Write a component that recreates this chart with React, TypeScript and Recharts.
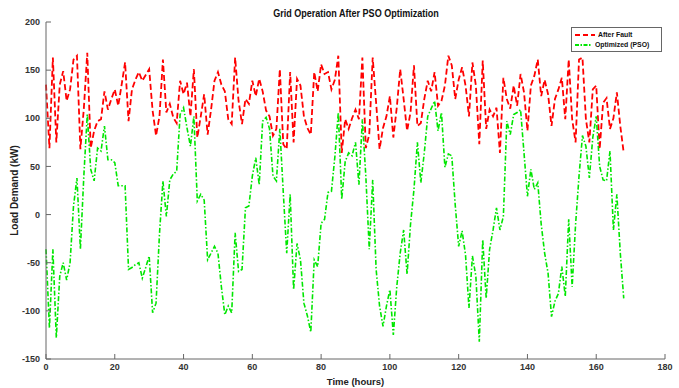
import { LineChart, Line, XAxis, YAxis, Legend } from "recharts";

// hourly load (kW), hours 0..168
const afterFault = [
  135, 69, 163, 75, 135, 149, 118, 130, 161, 165, 68, 110, 168, 69, 87, 97, 99, 128, 109, 120,
  130, 113, 135, 158, 97, 130, 140, 148, 139, 145, 151, 108, 82, 102, 161, 106, 115, 101, 95, 139,
  125, 137, 102, 151, 80, 102, 125, 83, 109, 139, 148, 135, 128, 99, 94, 163, 118, 94, 120, 115,
  139, 123, 141, 128, 108, 102, 82, 89, 151, 73, 68, 148, 75, 141, 134, 102, 90, 83, 148, 128,
  156, 146, 148, 130, 140, 165, 64, 99, 89, 100, 109, 99, 163, 69, 83, 163, 116, 68, 90, 102,
  123, 80, 111, 151, 120, 87, 106, 155, 92, 95, 120, 139, 128, 148, 113, 118, 134, 165, 155, 120,
  140, 153, 134, 102, 158, 134, 73, 160, 89, 109, 102, 111, 64, 142, 120, 110, 134, 113, 146, 127,
  87, 134, 144, 161, 123, 140, 125, 92, 120, 130, 142, 99, 161, 99, 75, 161, 163, 99, 75, 130,
  134, 68, 116, 121, 89, 100, 127, 92, 64,
];

const optimizedPso = [
  -36, -118, -36, -128, -64, -50, -68, -50, 9, 38, -36, 40, 104, 47, 35, 69, 66, 92, 57, 57,
  54, 30, 30, 30, -57, -55, -52, -50, -66, -55, -43, -102, -92, -20, 35, -2, 36, 42, 45, 104,
  111, 90, 71, 102, 14, 21, 15, -47, -40, -33, -40, -75, -104, -95, -102, -19, -59, -57, 7, 9,
  40, 59, 31, 97, 101, 89, 40, 35, 89, 23, -40, 21, -78, -30, -47, -92, -105, -122, -47, -54,
  -9, -5, 23, 24, 60, 106, 16, 55, 64, 61, 75, 31, 99, 40, -36, 36, -57, -95, -116, -95,
  -78, -125, -75, -40, -16, -62, -10, 26, 75, 33, 64, 102, 110, 118, 87, 106, 49, 63, 61, 10,
  -33, -17, -42, -97, -43, -64, -132, -26, -87, -36, -16, 7, -16, -2, 97, 83, 104, 106, 109, 64,
  19, 47, 26, 33, -10, -40, -61, -106, -90, -82, -54, -85, -5, -75, -10, 40, 82, 71, 38, 80,
  102, 50, 36, 35, 66, -16, 21, -40, -87,
];

const xTicks = [0, 20, 40, 60, 80, 100, 120, 140, 160, 180];
const yTicks = [-150, -100, -50, 0, 50, 100, 150, 200];

const data = afterFault.map((v, hour) => ({
  hour,
  afterFault: v,
  optimized: optimizedPso[hour],
}));

const FONT = "'Liberation Sans', Arial, sans-serif";
const AXIS = "#666";
const RED = "#ff0000";
const GREEN = "#00e600";

function LegendBox() {
  const row = { display: "flex", alignItems: "center", height: 10, whiteSpace: "nowrap" as const };
  const txt = { marginLeft: 3, display: "inline-block", transform: "scaleX(0.86)", transformOrigin: "left center" };
  return (
    <div
      style={{
        width: 91,
        height: 25,
        border: `1px solid ${AXIS}`,
        background: "#fff",
        padding: "2px 3px",
        fontFamily: FONT,
        fontSize: 8,
        fontWeight: "bold",
        color: "#111",
        lineHeight: "10px",
        boxSizing: "border-box",
        overflow: "hidden",
      }}
    >
      <div style={row}>
        <svg width={20} height={6}>
          <line x1={0} x2={20} y1={3} y2={3} stroke={RED} strokeWidth={2} strokeDasharray="5 3" />
        </svg>
        <span style={txt}>After Fault</span>
      </div>
      <div style={row}>
        <svg width={20} height={6}>
          <line x1={0} x2={20} y1={3} y2={3} stroke={GREEN} strokeWidth={1.8} strokeDasharray="4 1.5 1.5 1.5" />
        </svg>
        <span style={txt}>Optimized (PSO)</span>
      </div>
    </div>
  );
}

export default function App() {
  const tickStyle = { fill: "#333", fontSize: 9, fontWeight: "bold", fontFamily: FONT };
  return (
    <div style={{ position: "absolute", left: 0, top: 0, width: 679, height: 388, background: "#fff" }}>
      {/* title */}
      <div
        style={{
          position: "absolute",
          left: 356,
          top: 7,
          transform: "translateX(-50%) scaleX(0.82)",
          whiteSpace: "nowrap",
          fontFamily: FONT,
          fontSize: 11,
          fontWeight: "bold",
          color: "#111",
          lineHeight: "13px",
          zIndex: 2,
        }}
      >
        Grid Operation After PSO Optimization
      </div>
      <LineChart
        width={679}
        height={388}
        data={data}
        margin={{ top: 22, right: 14, bottom: 0, left: 0 }}
      >
        {/* bottom / left axes with labels */}
        <XAxis
          dataKey="hour"
          type="number"
          domain={[0, 180]}
          ticks={xTicks}
          height={29}
          tickSize={-5}
          tickMargin={10}
          stroke={AXIS}
          tick={tickStyle}
          label={{
            value: "Time (hours)",
            position: "insideBottom",
            offset: 3,
            style: { fill: "#222", fontSize: 9.5, fontWeight: "bold", fontFamily: FONT },
          }}
        />
        <YAxis
          type="number"
          domain={[-150, 200]}
          ticks={yTicks}
          width={46}
          tickSize={-5}
          tickMargin={11}
          stroke={AXIS}
          tick={tickStyle}
          label={{
            value: "Load Demand (kW)",
            angle: -90,
            position: "insideLeft",
            offset: 14,
            style: { textAnchor: "middle", fill: "#222", fontSize: 10, fontWeight: "bold", fontFamily: FONT },
          }}
        />

        {/* box: top / right axes, inward ticks, no labels */}
        <XAxis
          xAxisId="top"
          orientation="top"
          dataKey="hour"
          type="number"
          domain={[0, 180]}
          ticks={xTicks}
          height={0}
          tickSize={-5}
          stroke={AXIS}
          tickFormatter={() => ""}
        />
        <YAxis
          yAxisId="right"
          orientation="right"
          type="number"
          domain={[-150, 200]}
          ticks={yTicks}
          width={0}
          tickSize={-5}
          stroke={AXIS}
          tickFormatter={() => ""}
        />

        <Legend
          layout="vertical"
          align="center"
          verticalAlign="middle"
          wrapperStyle={{ left: 571, top: 27, width: 91, height: 25 }}
          content={() => <LegendBox />}
        />

        <Line
          dataKey="afterFault"
          stroke={RED}
          strokeWidth={1.8}
          strokeDasharray="6 3"
          dot={false}
          isAnimationActive={false}
        />
        <Line
          dataKey="optimized"
          stroke={GREEN}
          strokeWidth={1.6}
          strokeDasharray="5 2 1.5 2"
          dot={false}
          isAnimationActive={false}
        />
      </LineChart>
    </div>
  );
}
